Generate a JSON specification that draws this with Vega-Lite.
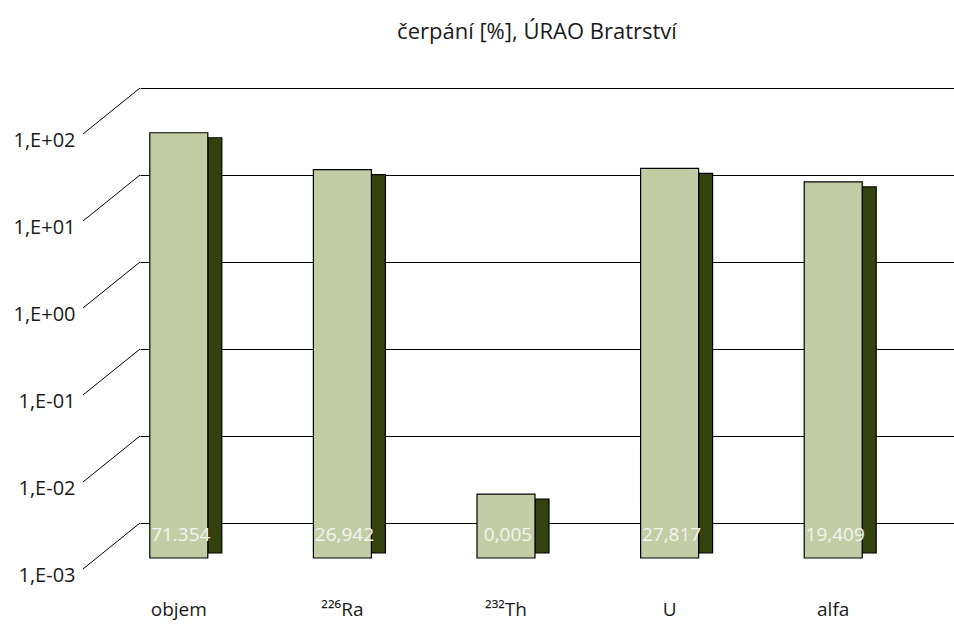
{
  "$schema": "https://vega.github.io/schema/vega-lite/v6.json",
  "width": 818,
  "height": 435,
  "autosize": {"type": "none"},
  "padding": {"left": 140, "top": 88, "right": 0, "bottom": 101},
  "background": "white",
  "config": {"view": {"stroke": null}, "font": "Open Sans"},
  "title": {"text": "čerpání [%], ÚRAO Bratrství", "fontSize": 22, "fontWeight": "normal", "color": "#1a1a1a", "offset": 42, "dx": -12, "anchor": "middle"},
  "datasets": {
    "bars": [
      {"kategorie": "objem", "hodnota": 71.354, "popisek": "71.354"},
      {"kategorie": "²²⁶Ra", "hodnota": 26.942, "popisek": "26,942"},
      {"kategorie": "²³²Th", "hodnota": 0.005, "popisek": "0,005"},
      {"kategorie": "U", "hodnota": 27.817, "popisek": "27,817"},
      {"kategorie": "alfa", "hodnota": 19.409, "popisek": "19,409"}
    ],
    "ticks": [{"t": 0.001}, {"t": 0.01}, {"t": 0.1}, {"t": 1}, {"t": 10}, {"t": 100}]
  },
  "layer": [
    {
      "data": {"name": "bars"},
      "mark": {"type": "bar", "color": "#344210", "stroke": "black", "strokeWidth": 1.2, "width": 14, "xOffset": -7, "yOffset": 37, "y2Offset": 30},
      "encoding": {
        "x": {"field": "kategorie", "type": "nominal", "sort": null, "scale": {"paddingInner": 0, "paddingOuter": 0},
          "axis": {"title": null, "domain": false, "ticks": false, "tickSize": 0, "labelPadding": 77, "labelOffset": -43, "labelFontSize": 19, "labelAngle": 0, "labelColor": "#1a1a1a", "grid": false}},
        "y": {"field": "hodnota", "type": "quantitative", "scale": {"type": "log", "domain": [0.001, 100], "nice": false},
          "axis": {"title": null, "values": [0.001, 0.01, 0.1, 1, 10, 100], "grid": true, "gridColor": "black", "gridWidth": 1, "gridOpacity": 1, "domain": false, "ticks": false, "tickSize": 0, "labelPadding": 65, "labelOffset": 52, "labelFontSize": 20, "labelColor": "#1a1a1a", "labelFlush": false, "labelBound": false, "labelOverlap": false,
            "labelExpr": "'1,E' + (round(log(datum.value)/LN10) >= 0 ? '+' : '-') + '0' + abs(round(log(datum.value)/LN10))"}},
        "y2": {"datum": 0.001}
      }
    },
    {
      "data": {"name": "bars"},
      "mark": {"type": "bar", "color": "#C2CDA6", "stroke": "black", "strokeWidth": 1.2, "width": 58, "xOffset": -43, "yOffset": 32, "y2Offset": 35},
      "encoding": {
        "x": {"field": "kategorie", "type": "nominal", "sort": null},
        "y": {"field": "hodnota", "type": "quantitative"},
        "y2": {"datum": 0.001}
      }
    },
    {
      "data": {"name": "bars"},
      "mark": {"type": "text", "color": "#F4F4F0", "fontSize": 19, "xOffset": -41, "yOffset": 12, "baseline": "middle", "align": "center"},
      "encoding": {
        "x": {"field": "kategorie", "type": "nominal", "sort": null},
        "y": {"datum": 0.001, "type": "quantitative"},
        "text": {"field": "popisek"}
      }
    },
    {
      "data": {"name": "ticks"},
      "mark": {"type": "point", "shape": "M 0 0 L -1 0.807", "size": 12996, "filled": false, "stroke": "black", "strokeWidth": 1, "opacity": 1},
      "encoding": {
        "x": {"datum": "objem", "type": "nominal", "bandPosition": 0},
        "y": {"field": "t", "type": "quantitative"}
      }
    }
  ]
}
